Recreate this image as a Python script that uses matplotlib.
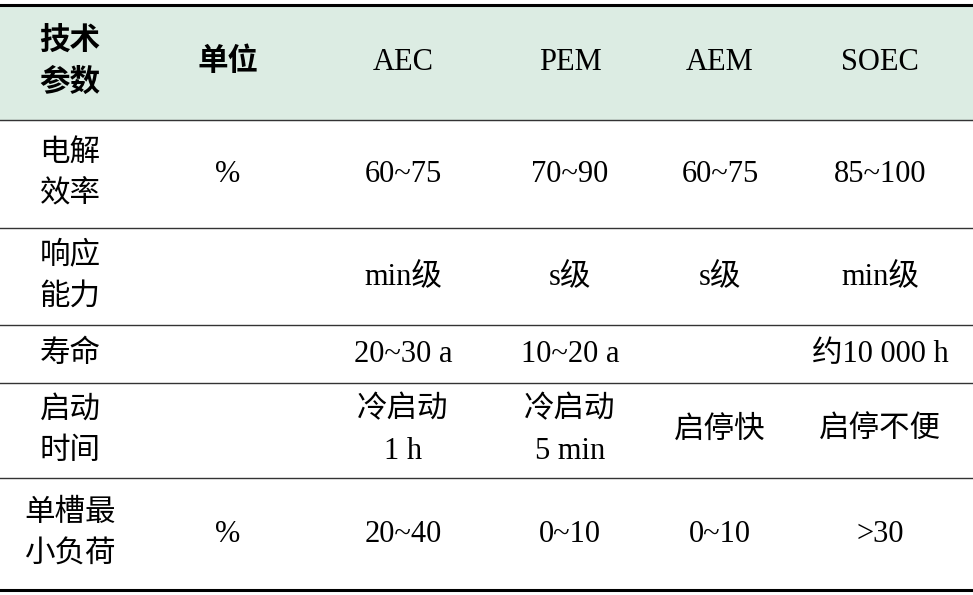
import matplotlib.pyplot as plt
from matplotlib.patches import Rectangle

plt.rcParams['font.family'] = ['Liberation Serif', 'Noto Sans CJK SC']

headers = ["技术\n参数", "单位", "AEC", "PEM", "AEM", "SOEC"]
rows = [
    ["电解\n效率", "%", "60~75", "70~90", "60~75", "85~100"],
    ["响应\n能力", "", "min级", "s级", "s级", "min级"],
    ["寿命", "", "20~30 a", "10~20 a", "", "约10 000 h"],
    ["启动\n时间", "", "冷启动\n1 h", "冷启动\n5 min", "启停快", "启停不便"],
    ["单槽最\n小负荷", "%", "20~40", "0~10", "0~10", ">30"],
]

col_x = [70, 228, 403, 570, 720, 880]
row_lines = [5, 120, 228, 325, 383, 478, 590]

fig = plt.figure(figsize=(9.73, 5.95), dpi=100)
ax = fig.add_axes([0, 0, 1, 1])
ax.set_xlim(0, 973)
ax.set_ylim(595, 0)
ax.axis('off')

ax.add_patch(Rectangle((0, row_lines[0]), 973, row_lines[1] - row_lines[0],
                       color='#dcece3', zorder=0))

for i, y in enumerate(row_lines):
    lw = 2.2 if i in (0, len(row_lines) - 1) else 1.0
    ax.plot([0, 973], [y, y], color='black' if lw > 2 else '#333333', lw=lw)

yc = (row_lines[0] + row_lines[1]) / 2
for x, h in zip(col_x, headers):
    ax.text(x, yc, h, ha='center', va='center', fontsize=22, linespacing=1.55,
            fontweight='semibold' if any(ord(c) > 127 for c in h) else 'normal')

for r, row in enumerate(rows):
    yc = (row_lines[r + 1] + row_lines[r + 2]) / 2
    for x, v in zip(col_x, row):
        ax.text(x, yc, v, ha='center', va='center', fontsize=22, linespacing=1.55)

fig.savefig('out.png', dpi=100)
